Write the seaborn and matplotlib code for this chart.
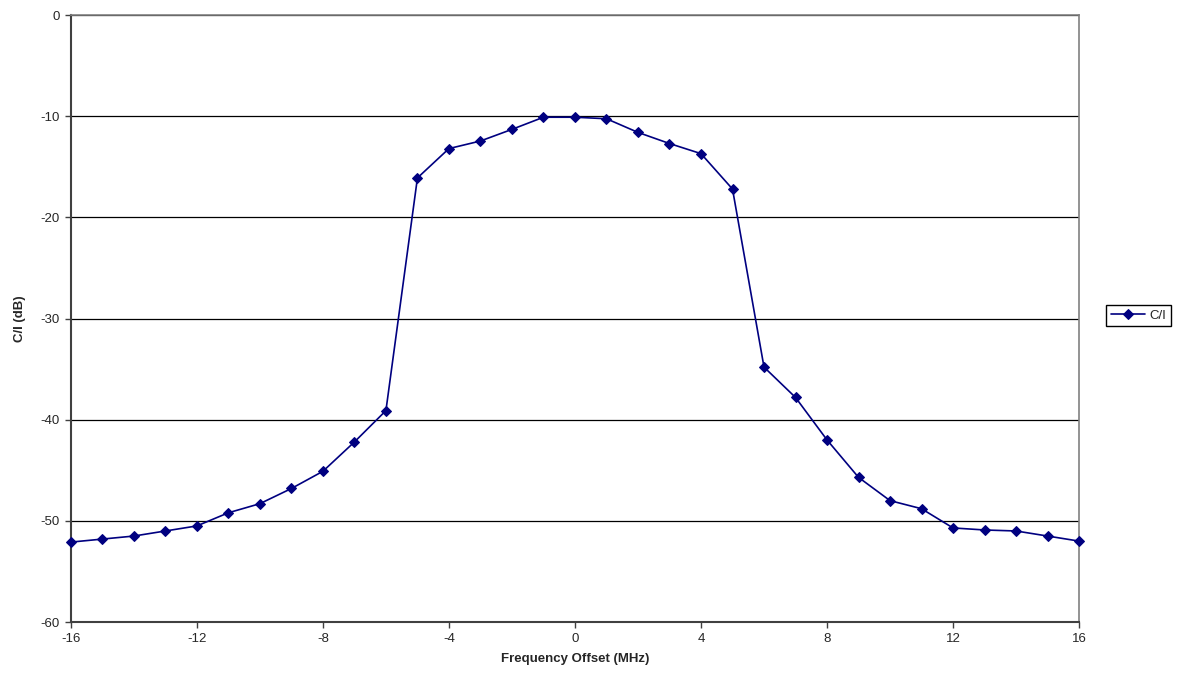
import matplotlib
matplotlib.use("Agg")
import matplotlib.pyplot as plt
import seaborn as sns
import pandas as pd

freq_offset = list(range(-16, 17))
ci_db = [-52.1, -51.8, -51.5, -51.0, -50.5, -49.2, -48.3, -46.8, -45.1, -42.2, -39.1,
         -16.1, -13.2, -12.45, -11.3, -10.1, -10.1, -10.25, -11.6, -12.7, -13.7, -17.2,
         -34.8, -37.8, -42.0, -45.7, -48.0, -48.8, -50.7, -50.9, -51.0, -51.5, -52.0]
x_ticks = [-16, -12, -8, -4, 0, 4, 8, 12, 16]
y_ticks = [0, -10, -20, -30, -40, -50, -60]
series_name = "C/I"

df = pd.DataFrame({"Frequency Offset (MHz)": freq_offset, "C/I (dB)": ci_db, "series": series_name})

sns.set_theme(style="white")
plt.rcParams["font.family"] = ["Liberation Sans", "DejaVu Sans"]

fig = plt.figure(figsize=(11.81, 6.84), dpi=100)
ax = fig.add_axes([0.060, 0.0906, 0.8537, 0.8874])

sns.lineplot(data=df, x="Frequency Offset (MHz)", y="C/I (dB)", hue="series",
             palette=["#000080"], marker="D", markersize=5.5, markeredgecolor="#000080",
             linewidth=1.2, ax=ax, clip_on=False, zorder=5)

ax.set_xlim(-16, 16)
ax.set_ylim(-60, 0)
ax.set_xticks(x_ticks)
ax.set_yticks(y_ticks)
ax.set_xticklabels([str(v) for v in x_ticks], fontsize=9.5)
ax.set_yticklabels([str(v) for v in y_ticks], fontsize=9.5)
ax.yaxis.grid(True, color="black", linewidth=0.9)
ax.xaxis.grid(False)
ax.tick_params(axis="both", direction="out", length=4, width=1, color="#404040", pad=4, bottom=True, left=True)
ax.set_xlabel("Frequency Offset (MHz)", fontsize=9.5, fontweight="bold", labelpad=6)
ax.set_ylabel("C/I (dB)", fontsize=9.5, fontweight="bold", labelpad=10)

for side in ["left", "bottom"]:
    ax.spines[side].set_color("#404040")
    ax.spines[side].set_linewidth(1.5)
for side in ["top", "right"]:
    ax.spines[side].set_color("#808080")
    ax.spines[side].set_linewidth(1.2)

leg = ax.legend(loc="center left", bbox_to_anchor=(1.027, 0.505), fontsize=9.5,
                frameon=True, fancybox=False, edgecolor="black", framealpha=1,
                borderpad=0.35, handlelength=2.6, handletextpad=0.3, borderaxespad=0.0)
leg.get_frame().set_linewidth(1.0)

fig.savefig("out.png", dpi=100)
